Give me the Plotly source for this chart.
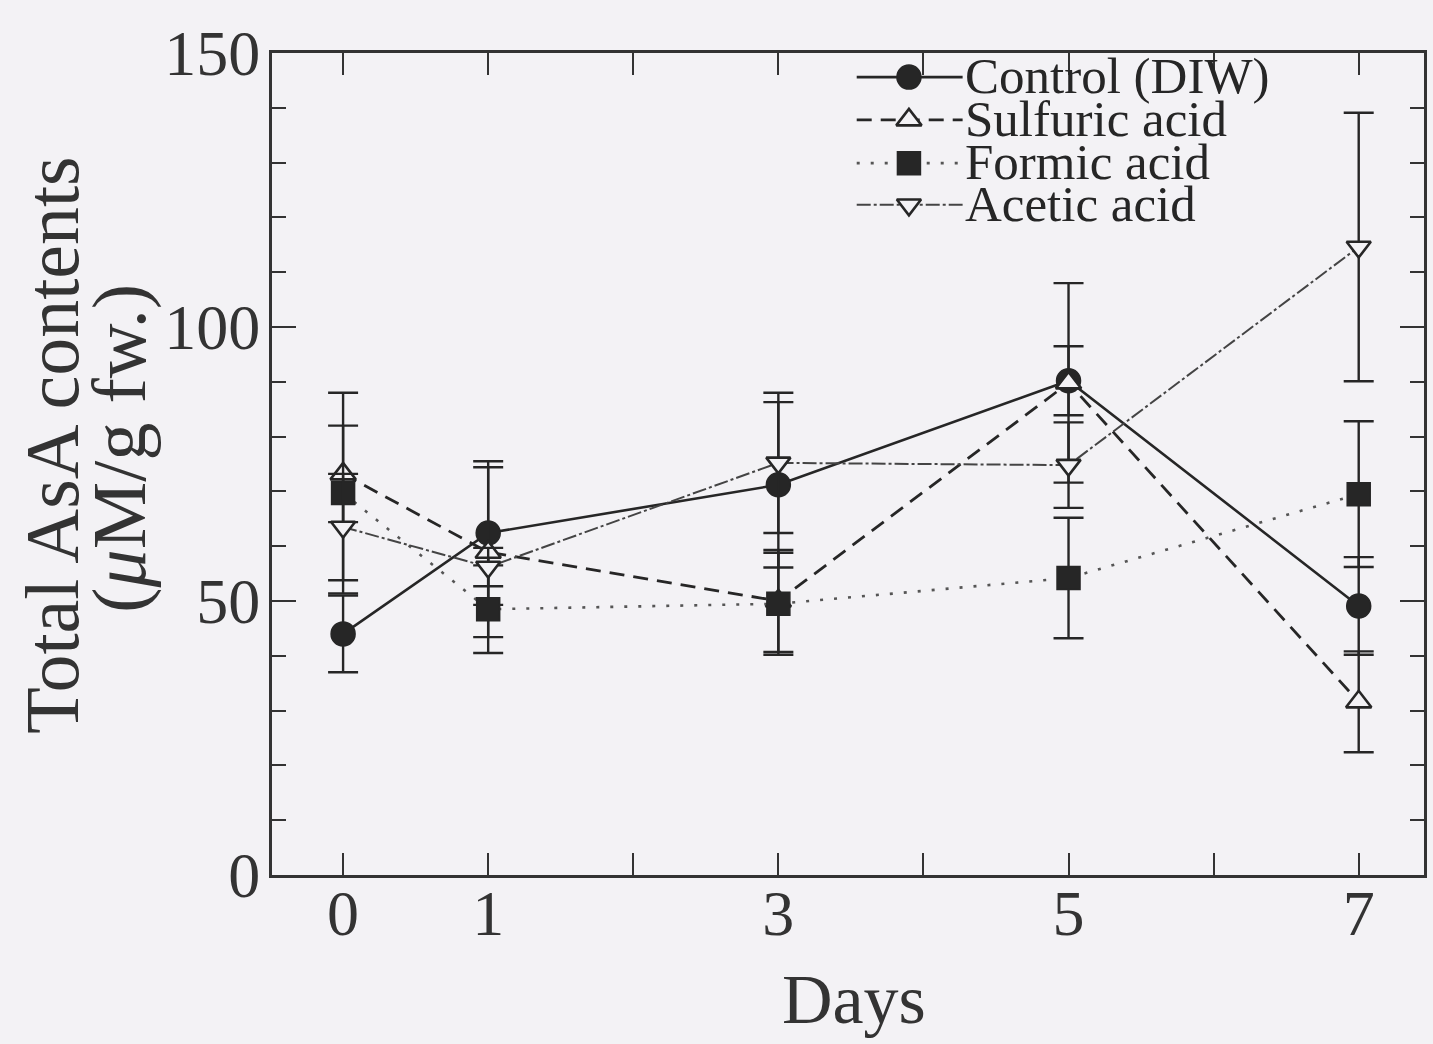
import plotly.graph_objects as go

# Sampling days and mean total AsA contents (µM/g fw.) with error values
days = [0, 1, 3, 5, 7]

control = [44.0, 62.4, 71.2, 90.2, 49.1]
control_err = [7.0, 13.1, 15.1, 6.3, 8.9]

sulfuric = [73.2, 58.9, 50.0, 89.8, 31.6]
sulfuric_err = [8.8, 15.5, 9.3, 18.2, 9.2]

formic = [69.7, 48.5, 49.5, 54.2, 69.5]
formic_err = [18.3, 8.0, 9.3, 11.0, 13.3]

acetic = [63.5, 56.2, 75.2, 74.8, 114.6]
acetic_err = [9.7, 3.5, 12.8, 7.8, 24.5]

series_names = ["Control (DIW)", "Sulfuric acid", "Formic acid", "Acetic acid"]

x_tick_vals = [0, 1, 2, 3, 4, 5, 6, 7]
x_tick_text = ["0", "1", "", "3", "", "5", "", "7"]
y_tick_vals = [0, 50, 100, 150]

BG = "#f3f2f5"
INK = "#262626"
FONT = "Liberation Serif"

styles = [
    dict(color=INK, dash="solid", width=2.6, symbol="circle", size=24, fill=INK, lw=1.5),
    dict(color=INK, dash="15px,9px", width=2.8, symbol="triangle-up", size=22, fill=BG, lw=2.6),
    dict(color="#555555", dash="3px,11px", width=2.6, symbol="square", size=23, fill=INK, lw=1.5),
    dict(color="#444444", dash="14px,3px,3px,3px", width=2.0, symbol="triangle-down", size=21, fill=BG, lw=2.6),
]

values = [control, sulfuric, formic, acetic]
errors = [control_err, sulfuric_err, formic_err, acetic_err]

fig = go.Figure()

for name, ys, es, st in zip(series_names, values, errors, styles):
    fig.add_trace(go.Scatter(
        x=days, y=ys, name=name, mode="lines+markers",
        line=dict(color=st["color"], dash=st["dash"], width=st["width"]),
        marker=dict(symbol=st["symbol"], size=st["size"], color=st["fill"],
                    line=dict(color=INK, width=st["lw"])),
        error_y=dict(type="data", array=es, visible=True, color=INK,
                     thickness=2.4, width=15),
        showlegend=False,
    ))

# Legend keys drawn inside the top-right corner of the axes
legend_rows = [145.6, 137.8, 129.9, 122.3]
key_x0, key_xm, key_x1 = 3.54, 3.90, 4.27
text_x = 4.27
for name, yrow, st in zip(series_names, legend_rows, styles):
    fig.add_trace(go.Scatter(
        x=[key_x0, key_x1], y=[yrow, yrow], mode="lines",
        line=dict(color=st["color"], dash=st["dash"], width=st["width"]),
        showlegend=False, hoverinfo="skip",
    ))
    fig.add_trace(go.Scatter(
        x=[key_xm], y=[yrow], mode="markers",
        marker=dict(symbol=st["symbol"], size=st["size"], color=st["fill"],
                    line=dict(color=INK, width=st["lw"])),
        showlegend=False, hoverinfo="skip",
    ))
    fig.add_annotation(x=text_x, y=yrow + 0.2, xref="x", yref="y", text=name,
                       showarrow=False, xanchor="left", yanchor="middle",
                       font=dict(family=FONT, size=51, color=INK))

axis_common = dict(
    showline=True, linecolor="#333333", linewidth=3, mirror="ticks",
    ticks="inside", tickcolor="#333333", tickwidth=2.4, showgrid=False,
    zeroline=False, tickfont=dict(family=FONT, size=64, color="#333333"),
)

fig.update_xaxes(range=[-0.49, 7.45], tickmode="array", tickvals=x_tick_vals,
                 ticktext=x_tick_text, ticklen=22, ticklabelstandoff=-20,
                 **axis_common)
fig.update_yaxes(range=[0, 150], tickmode="array", tickvals=y_tick_vals,
                 ticklen=24, ticklabelstandoff=-4,
                 minor=dict(dtick=10, tick0=0, ticks="inside", ticklen=14,
                            tickwidth=2, tickcolor="#333333"),
                 **axis_common)

# Axis titles
fig.add_annotation(x=0.5056, y=-0.152, xref="paper", yref="paper", text="Days",
                   showarrow=False, xanchor="center", yanchor="middle",
                   font=dict(family=FONT, size=70, color="#333333"))
fig.add_annotation(x=-0.1905, y=0.523, xref="paper", yref="paper",
                   text="Total AsA contents", textangle=-90, showarrow=False,
                   xanchor="center", yanchor="middle",
                   font=dict(family=FONT, size=76, color="#333333"))
fig.add_annotation(x=-0.1325, y=0.519, xref="paper", yref="paper",
                   text="(<i>μ</i>M/g fw.)", textangle=-90, showarrow=False,
                   xanchor="center", yanchor="middle",
                   font=dict(family=FONT, size=76, color="#333333"))

fig.update_layout(
    width=1433, height=1044,
    margin=dict(l=272, r=6, t=53, b=169),
    paper_bgcolor=BG, plot_bgcolor=BG,
    showlegend=False,
)

fig.write_html("out.html")
